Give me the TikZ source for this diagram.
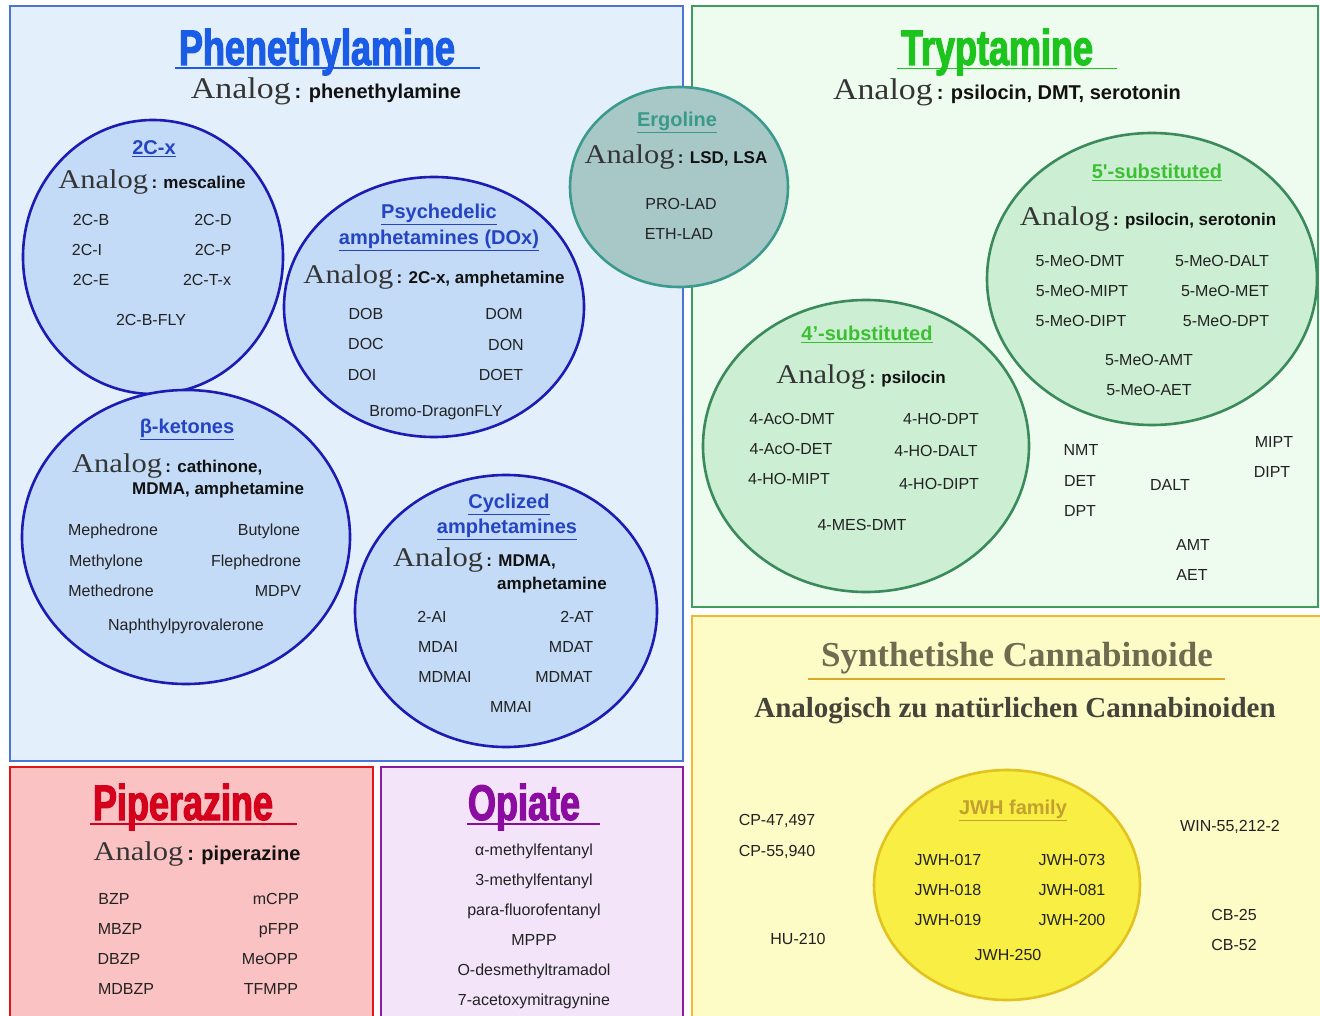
\documentclass[tikz,border=0pt]{standalone}
\usepackage{fontspec}
\setmainfont{Liberation Serif}
\setsansfont{Liberation Sans}
\newfontfamily\impactfont[FakeStretch=0.72,FakeBold=2.2]{Liberation Sans}
\usetikzlibrary{shapes.geometric}
\definecolor{pbluefill}{HTML}{E3F0FB}
\definecolor{pblueline}{HTML}{4A74D6}
\definecolor{cbluefill}{HTML}{C3DBF6}
\definecolor{cblueline}{HTML}{1C1CB4}
\definecolor{titleblue}{HTML}{1A5CE6}
\definecolor{subblue}{HTML}{2444C4}
\definecolor{pgreenfill}{HTML}{EEFBEF}
\definecolor{pgreenline}{HTML}{3E9C5E}
\definecolor{cgreenfill}{HTML}{CCEFD3}
\definecolor{cgreenline}{HTML}{3A8A5C}
\definecolor{titlegreen}{HTML}{1EC41E}
\definecolor{subgreen}{HTML}{3CC032}
\definecolor{ergofill}{HTML}{A8C8C8}
\definecolor{ergoline}{HTML}{3C9A8C}
\definecolor{ergotext}{HTML}{3A9A8A}
\definecolor{yfill}{HTML}{FDFBC6}
\definecolor{yline}{HTML}{F4B82E}
\definecolor{jwhfill}{HTML}{F8EE44}
\definecolor{jwhline}{HTML}{E2C21E}
\definecolor{jwhtext}{HTML}{C4A030}
\definecolor{cannatitle}{HTML}{6E6C50}
\definecolor{cannasub}{HTML}{45443A}
\definecolor{rfill}{HTML}{FAC2C2}
\definecolor{rline}{HTML}{E0161A}
\definecolor{titlered}{HTML}{D4001C}
\definecolor{vfill}{HTML}{F3E4FA}
\definecolor{vline}{HTML}{8C1C9E}
\definecolor{titlepurple}{HTML}{8C0CA2}
\definecolor{itemc}{HTML}{222222}
\definecolor{anac}{HTML}{111111}
\newcommand\Analog[1]{\scalebox{1.13}[1]{\rmfamily\mdseries\fontsize{#1}{#1}\selectfont\color{anac!85!white}Analog}\hspace{0.2em}}
\tikzset{
  panel/.style={line width=2.5pt},
  blob/.style={ellipse, line width=2.6pt, inner sep=0pt},
  item/.style={font=\sffamily\fontsize{16}{16}\selectfont, text=itemc, anchor=mid, inner sep=0pt, yshift=-3.5pt},
  sub/.style={font=\sffamily\bfseries\fontsize{20}{20}\selectfont, anchor=mid, inner sep=0pt, yshift=-4pt},
  bigtitle/.style={font=\impactfont\bfseries\fontsize{50}{50}\selectfont, anchor=base, inner sep=0pt},
  ana/.style={font=\sffamily\bfseries\fontsize{#1}{#1}\selectfont, text=anac, anchor=base, inner sep=0pt},
  ana/.default=18,
  uline/.style={line width=1.3pt},
}
\begin{document}
\begin{tikzpicture}[x=1pt,y=-1pt]
\useasboundingbox (0,0) rectangle (1320,1016);
\clip (0,0) rectangle (1320,1016);
\fill[white] (0,0) rectangle (1320,1016);
% panels
\draw[panel, draw=pblueline, fill=pbluefill] (10,6) rectangle (683,761);
\draw[panel, draw=pgreenline, fill=pgreenfill] (692,6) rectangle (1318,607);
\draw[panel, draw=yline, fill=yfill] (692,616) rectangle (1330,1030);
\draw[panel, draw=rline, fill=rfill] (10,767) rectangle (373,1030);
\draw[panel, draw=vline, fill=vfill] (381,767) rectangle (683,1030);

% ===== Phenethylamine =====
\node[bigtitle, text=titleblue] (tphen) at (317,65) {Phenethylamine};
\draw[uline, titleblue] (175,68) -- (480,68);
\node[ana=20] (aphen) at (326,99) {\Analog{30}: phenethylamine};

% 2C-x
\node[blob, draw=cblueline, fill=cbluefill, minimum width=260pt, minimum height=274pt] (c2c) at (153,257) {};
\node[sub, text=subblue] (s2c) at (154,148) {\underline{2C-x}};
\node[ana=17] (a2c) at (152,189) {\Analog{27}: mescaline};
\node[item] (i2cb) at (91,220) {2C-B};
\node[item] (i2cd) at (213,220) {2C-D};
\node[item] (i2ci) at (87,250) {2C-I};
\node[item] (i2cp) at (213,250) {2C-P};
\node[item] (i2ce) at (91,280) {2C-E};
\node[item] (i2ct) at (207,280) {2C-T-x};
\node[item] (i2cf) at (151,320) {2C-B-FLY};

% DOx
\node[blob, draw=cblueline, fill=cbluefill, minimum width=300pt, minimum height=260pt] (cdox) at (434,307) {};
\node[sub, text=subblue] (sdox1) at (439,212) {\underline{Psychedelic}};
\node[sub, text=subblue] (sdox2) at (439,238) {\underline{amphetamines (DOx)}};
\node[ana=17] (adox) at (434,284) {\Analog{27}: 2C-x, amphetamine};
\node[item] (idob) at (366,314) {DOB};
\node[item] (idom) at (504,314) {DOM};
\node[item] (idoc) at (366,344) {DOC};
\node[item] (idon) at (506,345) {DON};
\node[item] (idoi) at (362,375) {DOI};
\node[item] (idoet) at (501,375) {DOET};
\node[item] (ibdf) at (436,411) {Bromo-DragonFLY};

% beta-ketones
\node[blob, draw=cblueline, fill=cbluefill, minimum width=328pt, minimum height=294pt] (cbk) at (186,537) {};
\node[sub, text=subblue] (sbk) at (187,427) {\underline{β-ketones}};
\node[ana=17, anchor=base west] (abk1) at (72,472) {\Analog{27}: cathinone,};
\node[ana=17, anchor=base west] (abk2) at (132,494) {MDMA, amphetamine};
\node[item] (imeph) at (113,530) {Mephedrone};
\node[item] (ibut) at (269,530) {Butylone};
\node[item] (imethy) at (106,561) {Methylone};
\node[item] (ifleph) at (256,561) {Flephedrone};
\node[item] (imethe) at (111,591) {Methedrone};
\node[item] (imdpv) at (278,591) {MDPV};
\node[item] (inaph) at (186,625) {Naphthylpyrovalerone};

% Cyclized amphetamines
\node[blob, draw=cblueline, fill=cbluefill, minimum width=302pt, minimum height=272pt] (ccyc) at (506,611) {};
\node[sub, text=subblue] (scyc1) at (509,502) {\underline{Cyclized}};
\node[sub, text=subblue] (scyc2) at (507,527) {\underline{amphetamines}};
\node[ana=17, anchor=base west] (acyc1) at (393,566) {\Analog{27}: MDMA,};
\node[ana=17, anchor=base west] (acyc2) at (497,589) {amphetamine};
\node[item] (i2ai) at (432,617) {2-AI};
\node[item] (i2at) at (577,617) {2-AT};
\node[item] (imdai) at (438,647) {MDAI};
\node[item] (imdat) at (571,647) {MDAT};
\node[item] (imdmai) at (445,677) {MDMAI};
\node[item] (imdmat) at (564,677) {MDMAT};
\node[item] (immai) at (511,707) {MMAI};

% ===== Tryptamine =====
\node[bigtitle, text=titlegreen] (ttry) at (997,65) {Tryptamine};
\draw[uline, titlegreen] (897,68.5) -- (1117,68.5);
\node[ana=20] (atry) at (1007,100) {\Analog{30}: psilocin, DMT, serotonin};

% 5'-substituted
\node[blob, draw=cgreenline, fill=cgreenfill, minimum width=330pt, minimum height=292pt] (c5) at (1152,279) {};
\node[sub, text=subgreen] (s5) at (1157,172) {\underline{5\textquotesingle-substituted}};
\node[ana=17] (a5) at (1148,226) {\Analog{27}: psilocin, serotonin};
\node[item] (i5dmt) at (1080,261) {5-MeO-DMT};
\node[item] (i5dalt) at (1222,261) {5-MeO-DALT};
\node[item] (i5mipt) at (1082,291) {5-MeO-MIPT};
\node[item] (i5met) at (1225,291) {5-MeO-MET};
\node[item] (i5dipt) at (1081,321) {5-MeO-DIPT};
\node[item] (i5dpt) at (1226,321) {5-MeO-DPT};
\node[item] (i5amt) at (1149,360) {5-MeO-AMT};
\node[item] (i5aet) at (1149,390) {5-MeO-AET};

% 4'-substituted
\node[blob, draw=cgreenline, fill=cgreenfill, minimum width=326pt, minimum height=292pt] (c4) at (866,446) {};
\node[sub, text=subgreen] (s4) at (867,334) {\underline{4’-substituted}};
\node[ana=17] (a4) at (861,383) {\Analog{27}: psilocin};
\node[item] (i4acdmt) at (792,419) {4-AcO-DMT};
\node[item] (i4hodpt) at (941,419) {4-HO-DPT};
\node[item] (i4acdet) at (791,449) {4-AcO-DET};
\node[item] (i4hodalt) at (936,451) {4-HO-DALT};
\node[item] (i4homipt) at (789,479) {4-HO-MIPT};
\node[item] (i4hodipt) at (939,484) {4-HO-DIPT};
\node[item] (i4mes) at (862,525) {4-MES-DMT};

% loose tryptamines
\node[item] (inmt) at (1081,450) {NMT};
\node[item] (idet) at (1080,481) {DET};
\node[item] (idpt) at (1080,511) {DPT};
\node[item] (idalt) at (1170,485) {DALT};
\node[item] (imipt) at (1274,442) {MIPT};
\node[item] (idipt) at (1272,472) {DIPT};
\node[item] (iamt) at (1193,545) {AMT};
\node[item] (iaet) at (1192,575) {AET};

% ===== Ergoline =====
\node[blob, draw=ergoline, fill=ergofill, minimum width=218pt, minimum height=200pt] (cerg) at (679,187) {};
\node[sub, text=ergotext] (serg) at (677,120) {\underline{Ergoline}};
\node[ana=17] (aerg) at (676,164) {\Analog{27}: LSD, LSA};
\node[item] (iprolad) at (681,204) {PRO-LAD};
\node[item] (iethlad) at (679,234) {ETH-LAD};

% ===== Cannabinoide =====
\node[font=\rmfamily\bfseries\fontsize{35}{35}\selectfont, text=cannatitle, anchor=base, inner sep=0pt] (tcan) at (1017,666) {Synthetishe Cannabinoide};
\draw[line width=1.3pt, draw=yline!90!black] (808,679) -- (1225,679);
\node[font=\rmfamily\bfseries\fontsize{29}{29}\selectfont, text=cannasub, anchor=base, inner sep=0pt] (scan) at (1015,717) {Analogisch zu natürlichen Cannabinoiden};
\node[blob, draw=jwhline, fill=jwhfill, minimum width=266pt, minimum height=230pt] (cjwh) at (1007,885) {};
\node[sub, text=jwhtext] (sjwh) at (1013,808) {\underline{JWH family}};
\node[item] (ij017) at (948,860) {JWH-017};
\node[item] (ij073) at (1072,860) {JWH-073};
\node[item] (ij018) at (948,890) {JWH-018};
\node[item] (ij081) at (1072,890) {JWH-081};
\node[item] (ij019) at (948,920) {JWH-019};
\node[item] (ij200) at (1072,920) {JWH-200};
\node[item] (ij250) at (1008,955) {JWH-250};
\node[item] (icp47) at (777,820) {CP-47,497};
\node[item] (icp55) at (777,851) {CP-55,940};
\node[item] (ihu) at (798,939) {HU-210};
\node[item] (iwin) at (1230,826) {WIN-55,212-2};
\node[item] (icb25) at (1234,915) {CB-25};
\node[item] (icb52) at (1234,945) {CB-52};

% ===== Piperazine =====
\node[bigtitle, text=titlered] (tpip) at (183,820) {Piperazine};
\draw[uline, titlered] (90,824) -- (297,824);
\node[ana=20] (apip) at (197,860) {\Analog{27}: piperazine};
\node[item] (ibzp) at (114,899) {BZP};
\node[item] (imcpp) at (276,899) {mCPP};
\node[item] (imbzp) at (120,929) {MBZP};
\node[item] (ipfpp) at (279,929) {pFPP};
\node[item] (idbzp) at (119,959) {DBZP};
\node[item] (imeopp) at (270,959) {MeOPP};
\node[item] (imdbzp) at (126,989) {MDBZP};
\node[item] (itfmpp) at (271,989) {TFMPP};

% ===== Opiate =====
\node[bigtitle, text=titlepurple] (topi) at (524,820) {Opiate};
\draw[uline, titlepurple] (467,824) -- (600,824);
\node[item] (iamf) at (534,850) {α-methylfentanyl};
\node[item] (i3mf) at (534,880) {3-methylfentanyl};
\node[item] (ipff) at (534,910) {para-fluorofentanyl};
\node[item] (imppp) at (534,940) {MPPP};
\node[item] (iodt) at (534,970) {O-desmethyltramadol};
\node[item] (i7am) at (534,1000) {7-acetoxymitragynine};
\end{tikzpicture}
\end{document}
